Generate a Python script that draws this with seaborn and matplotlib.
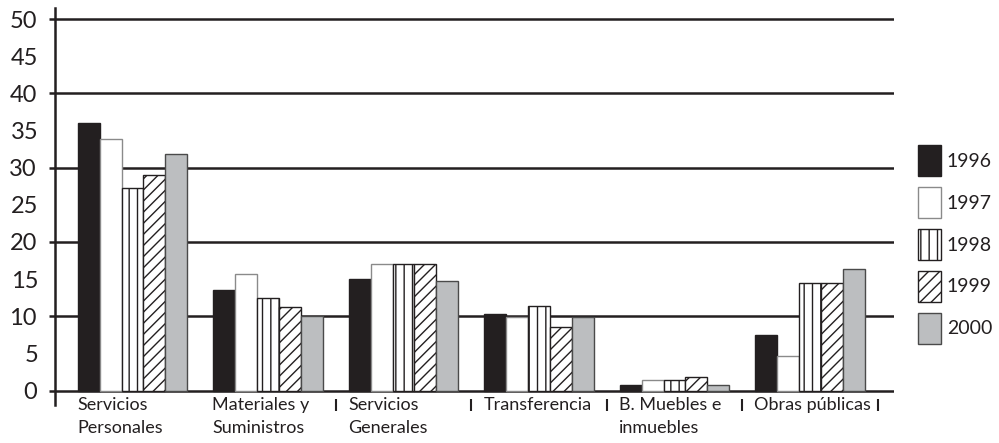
import matplotlib
matplotlib.use("Agg")
import matplotlib.pyplot as plt
from matplotlib.patches import Patch
import seaborn as sns
import pandas as pd
import numpy as np

categories = ["Servicios\nPersonales", "Materiales y\nSuministros", "Servicios\nGenerales",
              "Transferencia", "B. Muebles e\ninmuebles", "Obras públicas"]
years = ["1996", "1997", "1998", "1999", "2000"]

v1996 = [36.0, 13.6, 15.0, 10.3, 0.8, 7.5]
v1997 = [33.8, 15.7, 17.1, 9.9, 1.4, 4.6]
v1998 = [27.3, 12.5, 17.1, 11.4, 1.4, 14.5]
v1999 = [29.0, 11.3, 17.1, 8.6, 1.8, 14.5]
v2000 = [31.8, 10.0, 14.8, 9.9, 0.8, 16.3]

rows = []
for yr, vals in zip(years, [v1996, v1997, v1998, v1999, v2000]):
    for cat, v in zip(categories, vals):
        rows.append({"categoria": cat, "anio": yr, "valor": v})
df = pd.DataFrame(rows)

faces = ["#231f20", "white", "white", "white", "#bcbec0"]
edges = ["#231f20", "#8a8a8a", "#231f20", "#231f20", "#4a4a4a"]
hatches = [None, None, "||", "///", None]

sns.set_theme(style="white")
plt.rcParams["font.family"] = ["Lato", "DejaVu Sans"]
plt.rcParams["hatch.linewidth"] = 1.0

fig = plt.figure(figsize=(9.99, 4.43), dpi=100)
ax = fig.add_axes([55 / 999, 38 / 443, (894 - 55) / 999, (435 - 38) / 443])

sns.barplot(data=df, x="categoria", y="valor", hue="anio", order=categories,
            hue_order=years, width=0.81, saturation=1, legend=False, ax=ax,
            palette=faces, zorder=3)

for cont, fc, ec, h in zip(ax.containers, faces, edges, hatches):
    for bar in cont:
        bar.set_facecolor(fc)
        bar.set_edgecolor(ec)
        bar.set_linewidth(1.0)
        if h:
            bar.set_hatch(h)

ax.set_xlim(-0.572, 5.62)
ax.set_ylim(-1.95, 51.5)

# spines
for s in ["top", "right", "bottom"]:
    ax.spines[s].set_visible(False)
ax.spines["left"].set_color("#231f20")
ax.spines["left"].set_linewidth(1.8)

# horizontal lines
ax.set_yticks(np.arange(0, 51, 10))
ax.set_yticks(np.arange(5, 50, 10), minor=True)
ax.set_yticklabels([str(v) for v in range(0, 51, 10)])
ax.set_yticklabels([str(v) for v in range(5, 50, 10)], minor=True)
ax.yaxis.grid(True, which="major", color="#231f20", linewidth=1.8, zorder=0)
ax.tick_params(axis="y", which="major", length=4, width=1.8, color="#231f20",
               direction="out", pad=9, labelsize=17, labelcolor="#231f20", left=True)
ax.tick_params(axis="y", which="minor", length=0, pad=12, labelsize=17,
               labelcolor="#231f20", left=True)
ax.set_axisbelow(True)

# x axis: labels under each group, small ticks between groups
ax.set_xticks(np.arange(len(categories)) - 0.41)
ax.set_xticklabels(categories, ha="left", fontsize=13, color="#231f20",
                   linespacing=1.55)
ax.set_xticks([1.5, 2.5, 3.5, 4.5, 5.5], minor=True)
ax.tick_params(axis="x", which="major", length=0, pad=-6)
ax.tick_params(axis="x", which="minor", length=8, width=1.5, color="#231f20",
               direction="inout", bottom=True)
ax.set_xlabel("")
ax.set_ylabel("")

handles = [Patch(facecolor=fc, edgecolor=ec, hatch=h, linewidth=1.0)
           for fc, ec, h in zip(faces, edges, hatches)]
fig.legend(handles, years, loc="upper left", bbox_to_anchor=(918 / 999, 0.672),
           frameon=False, fontsize=14, handlelength=1.18, handleheight=2.06,
           handletextpad=0.3, labelspacing=0.57, borderpad=0, borderaxespad=0,
           labelcolor="#231f20")

fig.savefig("out.png", dpi=100)
